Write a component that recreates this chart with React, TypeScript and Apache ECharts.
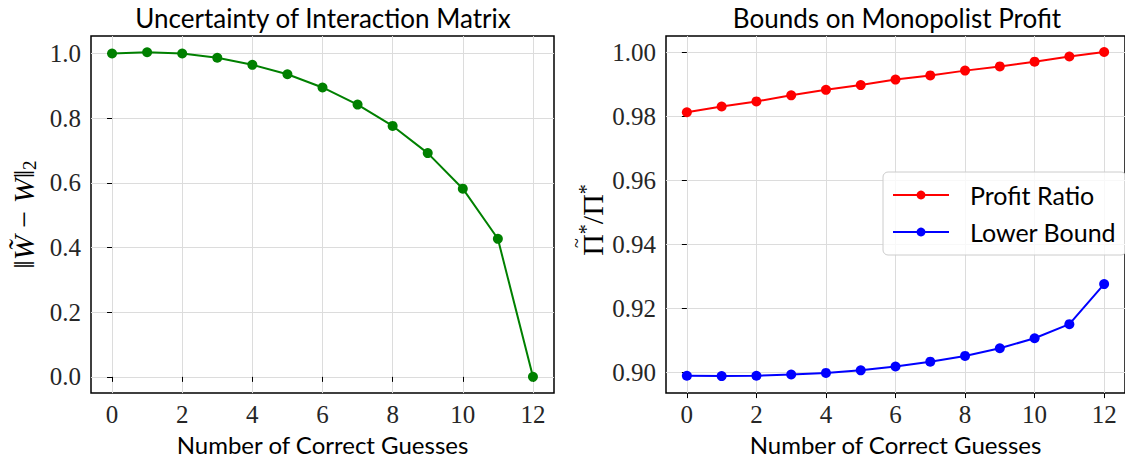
import React, { useEffect, useRef } from "react";
import * as echarts from "echarts";

const guesses = [0, 1, 2, 3, 4, 5, 6, 7, 8, 9, 10, 11, 12];
const uncertainty = [1.0, 1.004, 1.0, 0.987, 0.965, 0.936, 0.895, 0.842, 0.776, 0.692, 0.582, 0.427, 0.0];
const profitRatio = [0.9812, 0.983, 0.9846, 0.9865, 0.9882, 0.9897, 0.9914, 0.9927, 0.9942, 0.9955, 0.997, 0.9986, 1.0];
const lowerBound = [0.899, 0.8989, 0.899, 0.8994, 0.8999, 0.9007, 0.9019, 0.9034, 0.9052, 0.9076, 0.9107, 0.9151, 0.9276];
const xTicks = [0, 2, 4, 6, 8, 10, 12];
const leftYTicks = [0, 0.2, 0.4, 0.6, 0.8, 1.0];
const rightYTicks = [0.9, 0.92, 0.94, 0.96, 0.98, 1.0];

const titleLeft = "Uncertainty of Interaction Matrix";
const titleRight = "Bounds on Monopolist Profit";
const xName = "Number of Correct Guesses";

const SANS = "Lato, 'Noto Sans', sans-serif";
const SERIF = "'Liberation Serif', 'DejaVu Serif', serif";

export default function App() {
  const ref = useRef<HTMLDivElement>(null);
  useEffect(() => {
    if (!ref.current) return;
    const chart = echarts.init(ref.current, null, { renderer: "svg" });
    const grids = [
      { left: 91, top: 36, width: 463, height: 361 },
      { left: 666, top: 36, width: 464, height: 361 },
    ];
    const xAxisBase = (gi: number) => ({
      type: "value" as const,
      gridIndex: gi,
      min: -0.6,
      max: 12.6,
      name: xName,
      nameLocation: "middle" as const,
      nameGap: 36,
      nameTextStyle: { fontFamily: SANS, fontSize: 24, color: "#000" },
      axisLine: { show: false },
      axisTick: { show: true, customValues: xTicks, length: 5, lineStyle: { color: "#000", width: 1 } },
      axisLabel: {
        customValues: xTicks,
        margin: 9,
        fontFamily: SERIF,
        fontSize: 25,
        color: "#262626",
        formatter: (v: number) => String(v),
      },
      splitLine: { show: true, lineStyle: { color: "#dcdcdc", width: 1 } },
    });
    const option = {
      animation: false,
      backgroundColor: "#fff",
      graphic: [
        {
          type: "text",
          x: 323,
          y: 18,
          style: { text: titleLeft, fontFamily: SANS, fontSize: 26, fill: "#000", textAlign: "center", textVerticalAlign: "middle" },
        },
        {
          type: "text",
          x: 897,
          y: 18,
          style: { text: titleRight, fontFamily: SANS, fontSize: 26, fill: "#000", textAlign: "center", textVerticalAlign: "middle" },
        },
        {
          type: "group",
          x: 592,
          y: 220,
          rotation: Math.PI / 2,
          children: [
            {
              type: "text",
              x: 0,
              y: 0,
              style: {
                text: "{n|Π}{s|*}{n|/Π}{s|*}",
                textAlign: "center",
                textVerticalAlign: "middle",
                rich: {
                  n: { fontFamily: SERIF, fontSize: 30, fill: "#000" },
                  s: { fontFamily: SERIF, fontSize: 20, fill: "#000", verticalAlign: "top", padding: [0, 0, 12, 0] },
                },
              },
            },
            {
              type: "text",
              x: -23,
              y: -15,
              style: {
                text: "~",
                textAlign: "center",
                textVerticalAlign: "middle",
                fontFamily: SERIF,
                fontSize: 18,
                fill: "#000",
              },
            },
          ],
        },
      ],
      grid: grids.map((g) => ({ ...g, show: true, borderColor: "#000", borderWidth: 1.5, backgroundColor: "transparent" })),
      xAxis: [xAxisBase(0), xAxisBase(1)],
      yAxis: [
        {
          type: "value",
          gridIndex: 0,
          min: -0.0502,
          max: 1.0542,
          name: "{n|‖}{i|W̃}{n| − }{i|W}{n|‖}{s|2}",
          nameLocation: "middle",
          nameGap: 52,
          nameTextStyle: {
            rich: {
              n: { fontFamily: SERIF, fontSize: 30, color: "#000" },
              i: { fontFamily: SERIF, fontSize: 30, fontStyle: "italic", color: "#000" },
              s: { fontFamily: SERIF, fontSize: 19, color: "#000", verticalAlign: "bottom", padding: [12, 0, 0, 0] },
            },
          },
          axisLine: { show: false },
          axisTick: { show: true, customValues: leftYTicks, length: 5, lineStyle: { color: "#000", width: 1 } },
          axisLabel: {
            customValues: leftYTicks,
            margin: 10,
            fontFamily: SERIF,
            fontSize: 25,
            color: "#262626",
            formatter: (v: number) => v.toFixed(1),
          },
          splitLine: { show: true, lineStyle: { color: "#dcdcdc", width: 1 } },
        },
        {
          type: "value",
          gridIndex: 1,
          min: 0.8936,
          max: 1.005,
          axisLine: { show: false },
          axisTick: { show: true, customValues: rightYTicks, length: 5, lineStyle: { color: "#000", width: 1 } },
          axisLabel: {
            customValues: rightYTicks,
            margin: 10,
            fontFamily: SERIF,
            fontSize: 25,
            color: "#262626",
            formatter: (v: number) => v.toFixed(2),
          },
          splitLine: { show: true, lineStyle: { color: "#dcdcdc", width: 1 } },
        },
      ],
      legend: {
        orient: "vertical",
        left: 883,
        top: 172,
        padding: [9, 10, 9, 9],
        itemWidth: 56,
        itemHeight: 11,
        itemGap: 9,
        borderColor: "#cccccc",
        borderWidth: 1,
        borderRadius: 5,
        backgroundColor: "rgba(255,255,255,0.8)",
        data: ["Profit Ratio", "Lower Bound"],
        textStyle: { fontFamily: SANS, fontSize: 25, color: "#000", lineHeight: 28, padding: [0, 0, 0, 16] },
      },
      series: [
        {
          name: "Uncertainty",
          type: "line",
          xAxisIndex: 0,
          yAxisIndex: 0,
          data: guesses.map((g, i) => [g, uncertainty[i]]),
          color: "#008000",
          symbol: "circle",
          symbolSize: 10,
          lineStyle: { width: 2 },
        },
        {
          name: "Profit Ratio",
          type: "line",
          xAxisIndex: 1,
          yAxisIndex: 1,
          data: guesses.map((g, i) => [g, profitRatio[i]]),
          color: "#ff0000",
          symbol: "circle",
          symbolSize: 10,
          lineStyle: { width: 2 },
        },
        {
          name: "Lower Bound",
          type: "line",
          xAxisIndex: 1,
          yAxisIndex: 1,
          data: guesses.map((g, i) => [g, lowerBound[i]]),
          color: "#0000ff",
          symbol: "circle",
          symbolSize: 10,
          lineStyle: { width: 2 },
        },
      ],
    };
    chart.setOption(option as any);
    return () => chart.dispose();
  }, []);
  return (
    <div
      ref={ref}
      style={{ position: "fixed", left: 0, top: 0, width: 1125, height: 461, background: "#fff" }}
    />
  );
}
